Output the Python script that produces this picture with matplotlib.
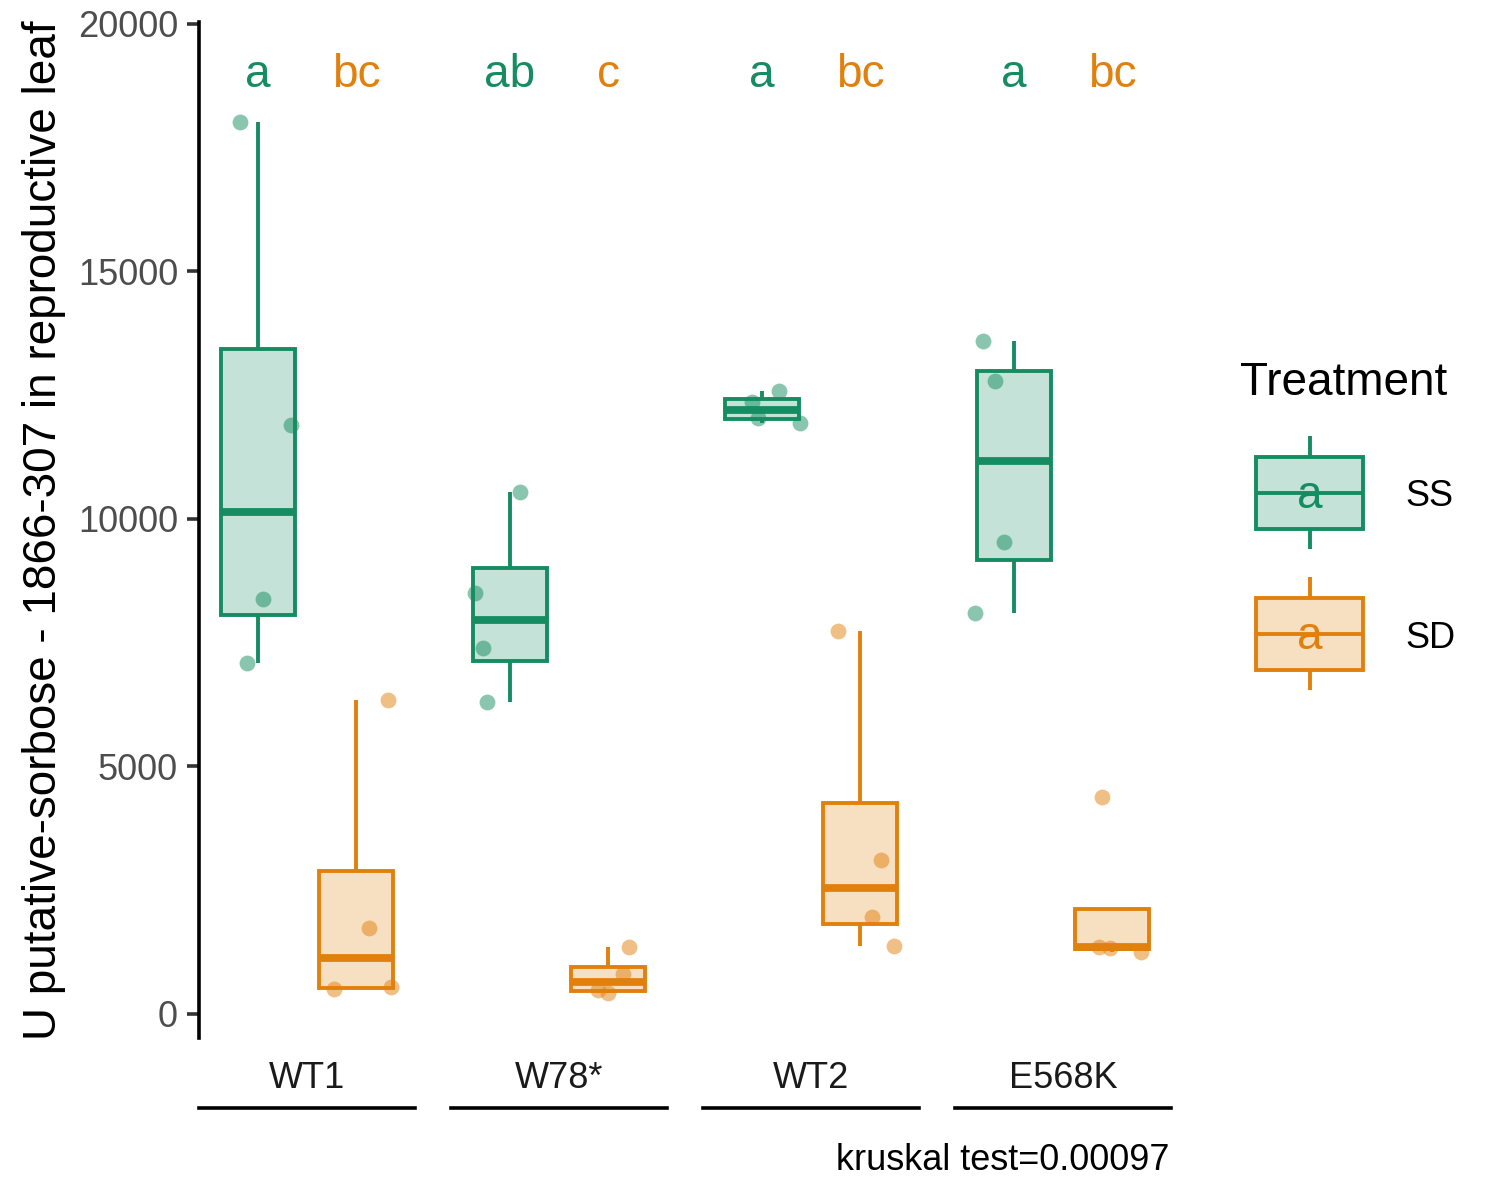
import matplotlib
matplotlib.use("Agg")
import matplotlib.pyplot as plt
from matplotlib.patches import Rectangle
from matplotlib.lines import Line2D
import numpy as np

plt.rcParams['font.family'] = ['Liberation Sans', 'DejaVu Sans']

# ---------------- data ----------------
genotypes = ["WT1", "W78*", "WT2", "E568K"]
treatments = ["SS", "SD"]

ss_values = [
    [18020, 11899, 8384, 7091],
    [10545, 8505, 7394, 6303],
    [12586, 11939, 12363, 12040],
    [13596, 12788, 9535, 8101],
]
sd_values = [
    [505, 545, 1737, 6343],
    [1354, 808, 485, 424],
    [7737, 3111, 1960, 1374],
    [4384, 1354, 1333, 1253],
]
# horizontal jitter of the points (category units)
ss_jitter = [
    [-0.18, 0.34, 0.05, -0.11],
    [0.10, -0.36, -0.27, -0.23],
    [0.17, 0.39, -0.10, -0.04],
    [-0.31, -0.19, -0.10, -0.40],
]
sd_jitter = [
    [-0.23, 0.36, 0.13, 0.32],
    [0.21, 0.15, -0.10, 0.00],
    [-0.23, 0.21, 0.12, 0.35],
    [-0.10, -0.13, -0.02, 0.29],
]
ss_letters = ["a", "ab", "a", "a"]
sd_letters = ["bc", "c", "bc", "bc"]
letter_y = 18970
y_ticks = [0, 5000, 10000, 15000, 20000]
y_label = "U putative-sorbose - 1866-307 in reproductive leaf"
caption = "kruskal test=0.00097"
legend_title = "Treatment"

colors = {"SS": "#168C62", "SD": "#E2800E"}

# ---------------- layout helpers ----------------
W, H = 1500, 1200
def fx(x):
    return x / W
def fy(y):
    return 1 - y / H

fig = plt.figure(figsize=(15, 12), dpi=100)

panel_top, panel_bot = 22, 1038
panel_w, panel_step, panel_left0 = 216, 252, 199

BOX_LW = 2.8
MED_LW = 5.6
TXT_BIG = 33
TXT_SMALL = 26

def rgba(c, a):
    r, g, b = matplotlib.colors.to_rgb(c)
    return (r, g, b, a)

axes = []
for k, geno in enumerate(genotypes):
    left = panel_left0 + panel_step * k
    ax = fig.add_axes([fx(left), fy(panel_bot), panel_w / W, (panel_bot - panel_top) / H])
    axes.append(ax)
    ax.patch.set_alpha(0)

    for j, (tr, vals, jit, lets) in enumerate([
        ("SS", ss_values[k], ss_jitter[k], ss_letters[k]),
        ("SD", sd_values[k], sd_jitter[k], sd_letters[k]),
    ]):
        c = colors[tr]
        ax.boxplot([vals], positions=[j], widths=0.75, patch_artist=True,
                   showfliers=False, showcaps=False, whis=1.5,
                   boxprops=dict(facecolor=rgba(c, 0.25), edgecolor=c, linewidth=BOX_LW),
                   medianprops=dict(color=c, linewidth=MED_LW, solid_capstyle="butt"),
                   whiskerprops=dict(color=c, linewidth=BOX_LW, solid_capstyle="butt"),
                   zorder=2)
        ax.scatter(np.array(jit) + j, vals, s=130, color=c, alpha=0.5,
                   linewidths=0, zorder=3)
        ax.text(j, letter_y, lets, color=c, fontsize=TXT_BIG,
                ha="center", va="center", zorder=4)

    ax.set_xlim(-0.6, 1.6)
    ax.set_ylim(-485, 20040)
    for s in ["top", "right", "bottom"]:
        ax.spines[s].set_visible(False)
    ax.set_xticks([])
    ax.tick_params(axis="x", bottom=False, labelbottom=False)
    if k == 0:
        ax.spines["left"].set_linewidth(2.6)
        ax.set_yticks(y_ticks)
        ax.set_yticklabels([str(t) for t in y_ticks])
        ax.tick_params(axis="y", length=8.6, width=2.6, pad=6.5,
                       labelsize=TXT_SMALL, labelcolor="#4D4D4D", color="#333333")
    else:
        ax.spines["left"].set_visible(False)
        ax.set_yticks([])

    # facet strip label (bottom) with underline
    cx = left + panel_w / 2
    fig.text(fx(cx), fy(1079), geno, ha="center", va="center",
             fontsize=TXT_SMALL, color="#1A1A1A")
    fig.add_artist(Line2D([fx(left), fx(left + panel_w)], [fy(1108), fy(1108)],
                          color="black", linewidth=2.6))

# y label
fig.text(fx(44), fy(530), y_label, rotation=90, ha="center", va="center",
         fontsize=TXT_BIG, color="black")

# caption
fig.text(fx(1170), fy(1161), caption, ha="right", va="center",
         fontsize=TXT_SMALL, color="black")

# ---------------- legend ----------------
fig.text(fx(1240), fy(383), legend_title, ha="left", va="center",
         fontsize=TXT_BIG, color="black")
key_centers = {"SS": 493, "SD": 634}
for tr in treatments:
    c = colors[tr]
    yc = key_centers[tr]
    x0, x1 = 1256, 1363
    xm = (x0 + x1) / 2
    lax = fig.add_axes([fx(x0 - 10), fy(yc + 60), (x1 - x0 + 20) / W, 120 / H])
    lax.set_xlim(x0 - 10, x1 + 10)
    lax.set_ylim(yc + 60, yc - 60)
    lax.axis("off")
    lax.add_patch(Rectangle((x0, yc - 36), x1 - x0, 72, facecolor=rgba(c, 0.25),
                            edgecolor=c, linewidth=BOX_LW))
    lax.plot([xm, xm], [yc - 57, yc - 36], color=c, linewidth=BOX_LW, solid_capstyle="butt")
    lax.plot([xm, xm], [yc + 36, yc + 56], color=c, linewidth=BOX_LW, solid_capstyle="butt")
    lax.plot([x0, x1], [yc, yc], color=c, linewidth=BOX_LW, solid_capstyle="butt")
    lax.text(xm, yc + 3, "a", color=c, fontsize=TXT_BIG, ha="center", va="center")
    fig.text(fx(1405), fy(yc + 4), tr, ha="left", va="center",
             fontsize=TXT_SMALL, color="black")

fig.savefig("out.png", dpi=100)
